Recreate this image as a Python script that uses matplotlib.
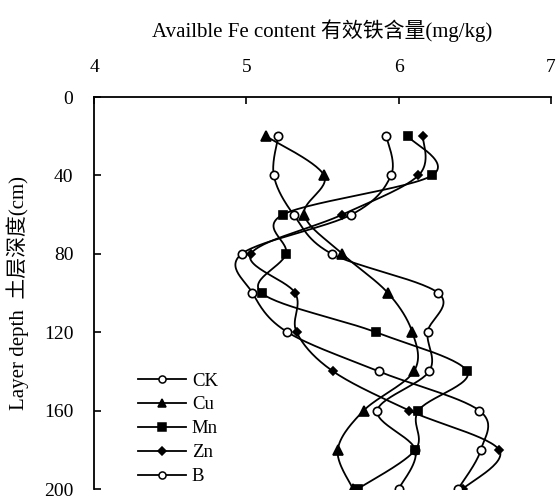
import numpy as np
import matplotlib
matplotlib.use("Agg")
import matplotlib.pyplot as plt

plt.rcParams['font.family'] = ['Liberation Serif', 'Noto Sans CJK SC']

# soil depth (cm) and available Fe (mg/kg)
depth = [20, 40, 60, 80, 100, 120, 140, 160, 180, 200]
ck = [5.21, 5.18, 5.31, 5.56, 6.26, 6.19, 6.20, 5.86, 6.11, 6.00]
cu = [5.13, 5.51, 5.38, 5.63, 5.93, 6.09, 6.10, 5.77, 5.60, 5.70]
mn = [6.06, 6.22, 5.24, 5.26, 5.10, 5.85, 6.45, 6.13, 6.11, 5.73]
zn = [6.16, 6.13, 5.63, 5.03, 5.32, 5.33, 5.57, 6.07, 6.66, 6.42]
b = [5.92, 5.95, 5.69, 4.97, 5.04, 5.27, 5.87, 6.53, 6.54, 6.39]

labels = ['CK', 'Cu', 'Mn', 'Zn', 'B']
series = [ck, cu, mn, zn, b]
markers = ['o', '^', 's', 'D', 'o']
faces = ['white', 'black', 'black', 'black', 'white']
msizes = [6, 6.5, 6, 4.5, 6]


def smooth(xs, ys, n=30):
    """Excel-style smoothed line (bezier through the points)."""
    p = np.column_stack([xs, ys]).astype(float)
    p = np.vstack([p[0], p, p[-1]])
    out = []
    t = np.linspace(0, 1, n)[:, None]
    for i in range(1, len(p) - 2):
        p0, p3 = p[i], p[i + 1]
        c1 = p0 + (p[i + 1] - p[i - 1]) / 6
        c2 = p3 - (p[i + 2] - p[i]) / 6
        seg = ((1 - t) ** 3) * p0 + 3 * ((1 - t) ** 2) * t * c1 \
            + 3 * (1 - t) * t ** 2 * c2 + t ** 3 * p3
        out.append(seg if i == 1 else seg[1:])
    out = np.vstack(out)
    return out[:, 0], out[:, 1]


fig = plt.figure(figsize=(5.57, 5.0), dpi=100)
ax = fig.add_axes([0.169, 0.022, 0.820, 0.784])

for vals, lab, m, fc, ms in zip(series, labels, markers, faces, msizes):
    sx, sy = smooth(vals, depth)
    ax.plot(sx, sy, '-', color='black', lw=1.3, zorder=2)
    ax.plot(vals, depth, linestyle='none', marker=m, ms=ms, mfc=fc,
            mec='black', mew=1.2, zorder=3)
    # legend proxy
    ax.plot([], [], '-', color='black', lw=1.3, marker=m, ms=ms * 0.85,
            mfc=fc, mec='black', mew=1.1, label=lab)

ax.set_xlim(4, 7)
ax.set_ylim(200, 0)
ax.xaxis.tick_top()
ax.xaxis.set_label_position('top')
ax.set_xticks([4, 5, 6, 7])
ax.set_yticks([0, 40, 80, 120, 160, 200])
ax.tick_params(axis='x', direction='in', length=5, width=1.2, pad=15, labelsize=14)
ax.tick_params(axis='y', direction='in', length=5, width=1.2, pad=15, labelsize=14)
for s in ['right', 'bottom']:
    ax.spines[s].set_visible(False)
for s in ['left', 'top']:
    ax.spines[s].set_linewidth(1.3)

ax.set_xlabel('Availble Fe content 有效铁含量(mg/kg)', fontsize=15, labelpad=16)
ax.set_ylabel('Layer depth  土层深度(cm)', fontsize=15, labelpad=11)

ax.legend(loc='lower left', bbox_to_anchor=(0.095, 0.01), frameon=False,
          fontsize=13.5, handlelength=2.6, handletextpad=0.3, labelspacing=0.36,
          borderpad=0, borderaxespad=0)

fig.savefig('out.png', dpi=100)
